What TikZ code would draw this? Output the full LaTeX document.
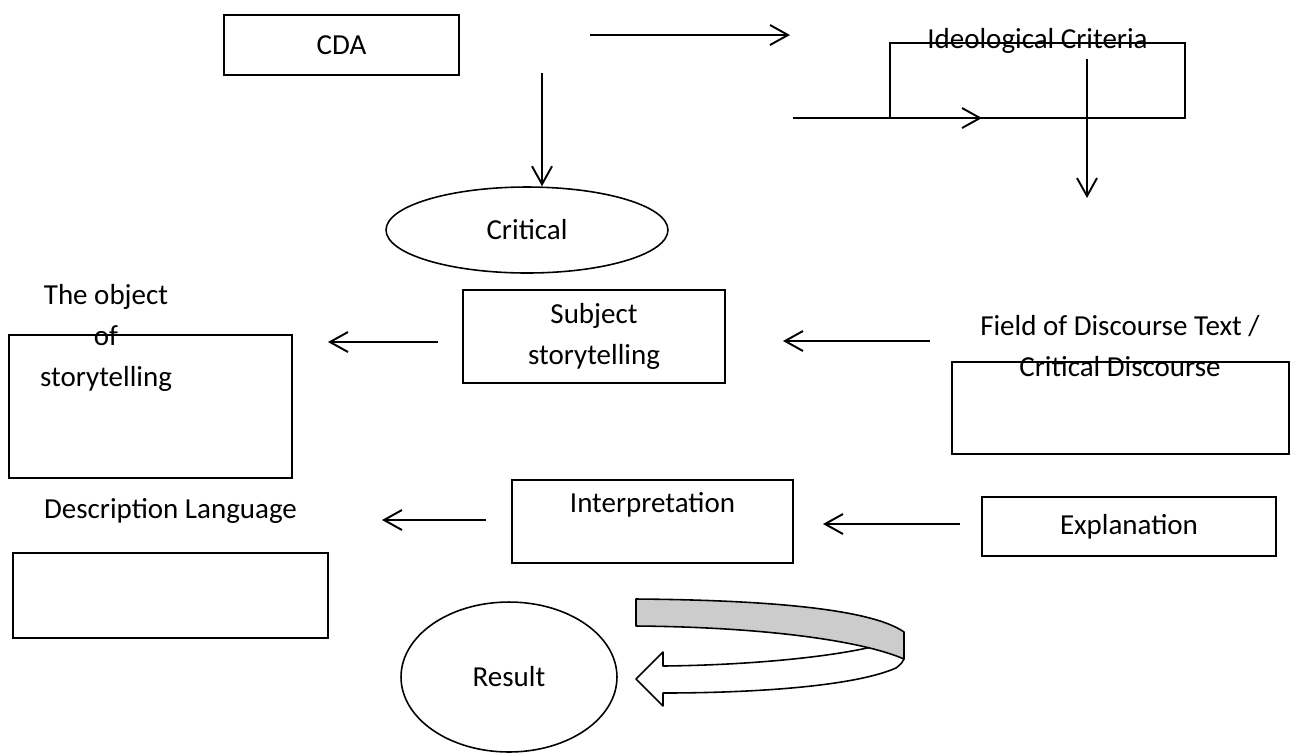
\documentclass[tikz,border=0pt]{standalone}
\usepackage{fontspec}
\setmainfont{Carlito}
\definecolor{cdaLine}{RGB}{0, 0, 0}
\definecolor{cdaBand}{RGB}{204, 204, 204}
\usepackage{tikz}
\usetikzlibrary{
  arrows.meta,
  positioning,
  shapes.geometric
}
\tikzset{
  % box styles
  basenode/.style={
    draw=cdaLine,
    line width=0.9pt,
    inner sep=2pt,
    align=center,
    font=\fontsize{16.5}{23.2}\selectfont
  },
  plainbox/.style={basenode, rectangle},
  ovalnode/.style={basenode, ellipse},
  % loose text
  labeltext/.style={
    inner sep=0pt,
    align=center,
    font=\fontsize{16.5}{23.2}\selectfont
  },
  % arrows
  arrow/.style={-{Straight Barb[length=3.6mm, width=4mm]}, line width=1.1pt, color=cdaLine},
  bandshape/.style={draw=cdaLine, line width=0.9pt, line join=round},
}
\begin{document}
\begin{tikzpicture}[x=0.02cm, y=-0.02cm]
  \useasboundingbox (0,0) rectangle (1298,752);
  % top row
  \node[plainbox, minimum width=4.7cm, minimum height=1.2cm] (cda) at (341.5,45) {CDA};
  \node[plainbox, minimum width=5.9cm, minimum height=1.5cm] (ideo) at (1037.5,80.5) {};
  \node[labeltext] (ideotxt) at ([yshift=0.02cm]ideo.north) {Ideological Criteria};
  \node[ovalnode, minimum width=5.64cm, minimum height=1.72cm] (crit) at (527,230) {Critical};
  \coordinate (cdaout) at (590,35);
  \coordinate (ideoin) at (790,35);
  \coordinate (critin) at (793,118);
  \coordinate (critout) at (982,118);
  \coordinate (cdadown) at (542,73);
  \coordinate (ideodown) at (1087,59);
  \coordinate (ideoend) at (1087,198);
  \draw[arrow] (cdaout) -- (ideoin);
  \draw[arrow] (critin) -- (critout);
  \draw[arrow] (cdadown) -- (cdadown |- crit.north);
  \draw[arrow] (ideodown) -- (ideoend);

  % middle row
  \node[plainbox, minimum width=5.66cm, minimum height=2.86cm] (obj) at (150.5,406.5) {};
  \node[labeltext] (objtxt) at (106,338) {The object\\of\\storytelling};
  \node[plainbox, minimum width=5.24cm, minimum height=1.86cm] (subj) at (594,336.5) {Subject\\storytelling};
  \node[plainbox, minimum width=6.74cm, minimum height=1.84cm] (fod) at (1120.5,408) {};
  \node[labeltext] (fodtxt) at (1120,346) {Field of Discourse Text /\\Critical Discourse};
  \coordinate (subjout) at (438,342);
  \coordinate (objin) at (328,342);
  \coordinate (fodout) at (930,341);
  \coordinate (subjin) at (783,341);
  \draw[arrow] (subjout) -- (objin);
  \draw[arrow] (fodout) -- (subjin);

  % lower row
  \node[plainbox, minimum width=6.3cm, minimum height=1.7cm] (desc) at (170.5,595.5) {};
  \node[labeltext] (desctxt) at ([yshift=0.82cm]desc.north) {Description Language};
  \node[plainbox, minimum width=5.62cm, minimum height=1.66cm] (interp) at (652.5,521.5) {};
  \node[labeltext, below=0.25cm of interp.north] (interptxt) {Interpretation};
  \node[plainbox, minimum width=5.88cm, minimum height=1.18cm] (expl) at (1129,526.5) {Explanation};
  \coordinate (interpout) at (486,520);
  \coordinate (descin) at (382,520);
  \coordinate (explout) at (960,524);
  \coordinate (interpin) at (823,524);
  \draw[arrow] (interpout) -- (descin);
  \draw[arrow] (explout) -- (interpin);

  % result and the turning band
  \node[ovalnode, minimum width=4.32cm, minimum height=3cm] (res) at (509,677) {Result};
  \draw[bandshape, fill=white] (904,659) .. controls (902,663) .. (896,668)
    .. controls (850,688) and (740,693) .. (663,693) -- (663,706) -- (636,679)
    -- (663,652) -- (663,666) .. controls (760,665) and (850,655) .. (890,642) -- cycle;
  \draw[bandshape, fill=cdaBand] (636,599) -- (636,626)
    .. controls (760,627) and (860,640) .. (904,659) -- (904,632)
    .. controls (870,608) and (760,600) .. cycle;
\end{tikzpicture}
\end{document}
